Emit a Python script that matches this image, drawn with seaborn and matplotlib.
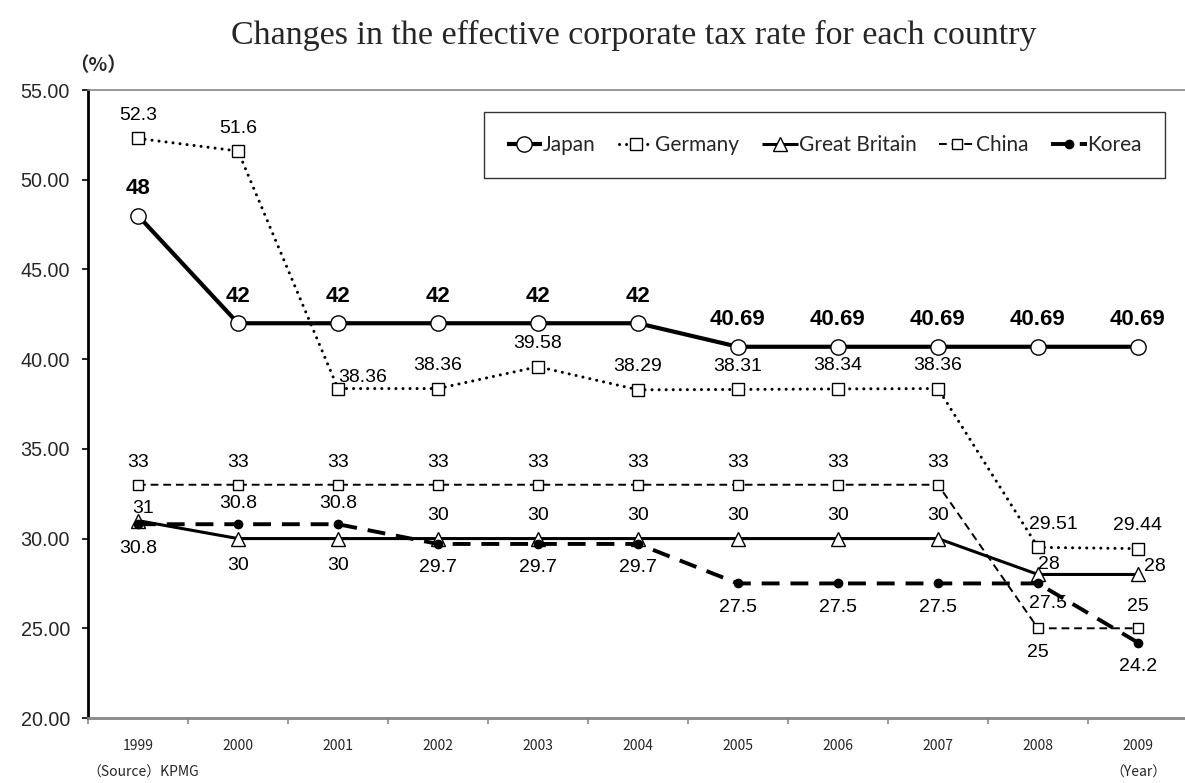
import numpy as np
import pandas as pd
import matplotlib
matplotlib.use("Agg")
import matplotlib.pyplot as plt
from matplotlib.ticker import FixedLocator, FormatStrFormatter
import seaborn as sns

years = ["1999", "2000", "2001", "2002", "2003", "2004", "2005", "2006", "2007", "2008", "2009"]
japan = [48, 42, 42, 42, 42, 42, 40.69, 40.69, 40.69, 40.69, 40.69]
germany = [52.3, 51.6, 38.36, 38.36, 39.58, 38.29, 38.31, 38.34, 38.36, 29.51, 29.44]
great_britain = [31, 30, 30, 30, 30, 30, 30, 30, 30, 28, 28]
china = [33, 33, 33, 33, 33, 33, 33, 33, 33, 25, 25]
korea = [30.8, 30.8, 30.8, 29.7, 29.7, 29.7, 27.5, 27.5, 27.5, 27.5, 24.2]

title = "Changes in the effective corporate tax rate for each country"

sns.set_style("white")
plt.rcParams["font.family"] = ["Liberation Sans", "DejaVu Sans"]

fig = plt.figure(figsize=(11.85, 7.83), dpi=100)
ax = fig.add_axes([88 / 1185, 65 / 783, 1100 / 1185, 628 / 783])

x = np.arange(len(years))
df = pd.DataFrame({"pos": x, "Japan": japan, "Germany": germany,
                   "Great Britain": great_britain, "China": china, "Korea": korea})

styles = {
    "Japan": dict(lw=3.0, ls="-", cap="butt", marker="o", ms=11, mfc="white"),
    "Germany": dict(lw=2.2, ls=(0, (0.01, 2.3)), cap="round", marker="s", ms=9, mfc="white"),
    "Great Britain": dict(lw=2.2, ls="-", cap="butt", marker="^", ms=10, mfc="white"),
    "China": dict(lw=1.4, ls=(0, (4, 2.5)), cap="butt", marker="s", ms=6.5, mfc="white"),
    "Korea": dict(lw=2.8, ls=(0, (4.6, 2.8)), cap="butt", marker="o", ms=6, mfc="black"),
}

for name, st in styles.items():
    sns.lineplot(data=df, x="pos", y=name, ax=ax, color="black", label=name,
                 linewidth=st["lw"], linestyle=st["ls"], marker=st["marker"],
                 markersize=st["ms"], markerfacecolor=st["mfc"],
                 markeredgecolor="black", markeredgewidth=1.0,
                 dash_capstyle=st["cap"], solid_capstyle="butt")

ax.set_xlim(-0.5, len(years) - 0.5)
ax.set_ylim(20, 55)
ax.set_xlabel("")
ax.set_ylabel("")

# y axis
ax.yaxis.set_major_locator(FixedLocator(np.arange(20, 56, 5)))
ax.yaxis.set_major_formatter(FormatStrFormatter("%.2f"))
ax.tick_params(axis="y", which="major", left=True, length=6 * 0.72, width=1.2,
               color="black", pad=8.6, labelsize=14.2)

# x axis: labels at category centres, ticks at boundaries
ax.set_xticks(x)
ax.set_xticklabels(years, fontfamily=["Noto Sans CJK JP", "DejaVu Sans"], fontsize=10)
ax.set_xticks(np.arange(-0.5, len(years), 1.0), minor=True)
ax.tick_params(axis="x", which="major", bottom=True, length=0, pad=15)
ax.tick_params(axis="x", which="minor", bottom=True, length=4, width=1.2, color="#888888")

for side in ["left", "bottom", "top", "right"]:
    ax.spines[side].set_visible(True)
ax.spines["left"].set_color("black")
ax.spines["left"].set_linewidth(2.0)
ax.spines["bottom"].set_color("#888888")
ax.spines["bottom"].set_linewidth(2.0)
ax.spines["top"].set_color("#888888")
ax.spines["top"].set_linewidth(1.2)
ax.spines["right"].set_color("#888888")


def put(xi, yi, text, dx, dy, bold=False, size=14):
    ax.annotate(text, (xi, yi), xytext=(dx, dy), textcoords="offset pixels",
                ha="center", va="center", fontsize=size,
                fontweight="bold" if bold else "normal", color="black")


def fmt(v):
    return f"{v:g}"


# Japan labels
for i, v in enumerate(japan):
    put(i, v, fmt(v), 0, 27, bold=True, size=16)

# Germany labels
g_off = {2: (25, 11), 9: (15, 23)}
for i, v in enumerate(germany):
    dx, dy = g_off.get(i, (0, 23))
    put(i, v, fmt(v), dx, dy)

# Great Britain labels
for i, v in enumerate(great_britain):
    if i == 0:
        dx, dy = 5, 12
    elif i in (1, 2):
        dx, dy = 0, -27
    elif i == 9:
        dx, dy = 11, 10
    elif i == 10:
        dx, dy = 17, 8
    else:
        dx, dy = 0, 23
    put(i, v, fmt(v), dx, dy)

# China labels
for i, v in enumerate(china):
    if i == 9:
        dx, dy = 0, -24
    else:
        dx, dy = 0, 22
    put(i, v, fmt(v), dx, dy)

# Korea labels
for i, v in enumerate(korea):
    if i in (1, 2):
        dx, dy = 0, 21
    elif i == 9:
        dx, dy = 10, -20
    else:
        dx, dy = 0, -24
    put(i, v, fmt(v), dx, dy)

leg = ax.legend(loc="upper right", bbox_to_anchor=(1165 / 1185, 1 - 112 / 783),
                bbox_transform=fig.transFigure, borderaxespad=0, ncol=5, frameon=True,
                fancybox=False, edgecolor="black", handlelength=1.7,
                handletextpad=0.05, columnspacing=1.1, borderpad=1.1,
                prop={"family": ["Lato", "DejaVu Sans"], "size": 15})
leg.get_frame().set_linewidth(1.0)

fig.text(634 / 1185, 1 - 35 / 783, title, ha="center", va="center",
         fontsize=24.5, fontfamily=["Liberation Serif", "DejaVu Serif"])
fig.text(98 / 1185, 1 - 66 / 783, "（%）", ha="center", va="center",
         fontsize=14, fontweight="bold", fontfamily=["Noto Sans CJK JP", "DejaVu Sans"])
fig.text(87 / 1185, 1 - 773 / 783, "（Source）KPMG", ha="left", va="center",
         fontsize=10, fontfamily=["Noto Sans CJK JP", "DejaVu Sans"])
fig.text(1167 / 1185, 1 - 773 / 783, "（Year）", ha="right", va="center",
         fontsize=10, fontfamily=["Noto Sans CJK JP", "DejaVu Sans"])

fig.savefig("out.png", dpi=100)
